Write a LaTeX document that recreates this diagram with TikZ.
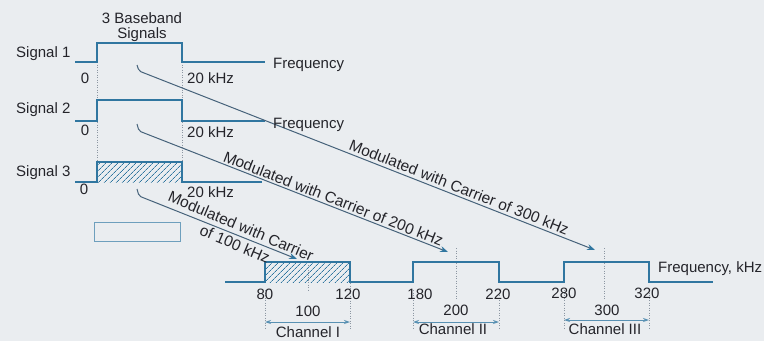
\documentclass[tikz,border=0pt]{standalone}
\usepackage{fontspec}
\setmainfont{Liberation Sans}
\usetikzlibrary{arrows.meta,patterns.meta}
\definecolor{bg}{RGB}{234,237,240}
\definecolor{wave}{RGB}{48,118,160}
\definecolor{conn}{RGB}{70,98,122}
\definecolor{txt}{RGB}{36,36,42}
\definecolor{dots}{RGB}{140,150,162}
\begin{document}
\begin{tikzpicture}[x=1pt,y=-1pt,
  wavestyle/.style={draw=wave,line width=2.4pt,line join=miter},
  lbl/.style={text=txt,font=\fontsize{15}{17}\selectfont,inner sep=0pt},
  dlbl/.style={text=txt,font=\fontsize{15.5}{18}\selectfont,inner sep=0pt},
  connline/.style={draw=conn,line width=1pt,rounded corners=2pt,-{Stealth[length=8pt,width=6pt,color=wave]}},
  dotline/.style={draw=dots,line width=0.9pt,dash pattern=on 1pt off 1.5pt},
  dimline/.style={draw=wave!80,line width=0.9pt,{Stealth[length=6pt,width=4pt]}-{Stealth[length=6pt,width=4pt]}},
  hatch/.style={pattern={Lines[angle=45,distance=4pt,line width=0.7pt]},pattern color=wave}
]
\fill[bg] (0,0) rectangle (764,341);
\useasboundingbox (0,0) rectangle (764,341);

% baseband dotted guides
\draw[dotline] (97,62) -- (97,182);
\draw[dotline] (182,62) -- (182,162);

% baseband signals
\fill[hatch] (97,162) rectangle (182,182);
\draw[wavestyle] (75,62) -- (97,62) -- (97,43) -- (182,43) -- (182,62) -- (265,62);
\draw[wavestyle] (75,121) -- (97,121) -- (97,100) -- (182,100) -- (182,121) -- (265,121);
\draw[wavestyle] (75,182) -- (97,182) -- (97,162) -- (182,162) -- (182,182) -- (262,182);

% empty box
\draw[draw=wave!70,line width=0.9pt] (94,222) rectangle (180,241);

% output spectrum dotted guides
\draw[dotline] (265,290) -- (265,330);
\draw[dotline] (350,283) -- (350,330);
\draw[dotline] (413,290) -- (413,330);
\draw[dotline] (499,290) -- (499,330);
\draw[dotline] (564,290) -- (564,328);
\draw[dotline] (649,290) -- (649,328);
\draw[dotline] (308,262) -- (308,292);
\draw[dotline] (456,248) -- (456,300);
\draw[dotline] (604,248) -- (604,300);

% output spectrum
\fill[hatch] (265,262) rectangle (350,282);
\draw[wavestyle] (225,282) -- (265,282) -- (265,262) -- (350,262) -- (350,282) -- (413,282) -- (413,262) -- (499,262) -- (499,282) -- (564,282) -- (564,262) -- (649,262) -- (649,282) -- (713,282);

% connectors
\coordinate (s1a) at (137,65);
\coordinate (s1b) at (139,71);
\coordinate (c3) at (595,250);
\coordinate (s2a) at (137,124);
\coordinate (s2b) at (139,131);
\coordinate (c2) at (448,252);
\coordinate (s3a) at (137,189);
\coordinate (s3b) at (139,196);
\coordinate (c1) at (297,259);
\draw[connline] (s1a) -- (s1b) -- (c3);
\draw[connline] (s2a) -- (s2b) -- (c2);
\draw[connline] (s3a) -- (s3b) -- (c1);
\path (s1b) -- (c3) node[dlbl,pos=0.695,sloped,above=3pt] (t300) {Modulated with Carrier of 300 kHz};
\path (s2b) -- (c2) node[dlbl,pos=0.62,sloped,above=2pt] (t200) {Modulated with Carrier of 200 kHz};
\node[dlbl,rotate=-23] (t100a) at (241,226) {Modulated with Carrier};
\node[dlbl,rotate=-23] (t100b) at (235,244) {of 100 kHz};

% dimension arrows
\draw[dimline] (265,322) -- (350,322);
\draw[dimline] (413,322) -- (499,322);
\draw[dimline] (564,320) -- (649,320);

% labels
\node[lbl,anchor=base] (bb1) at (142,23) {3 Baseband};
\node[lbl,anchor=base] (bb2) at (142,38) {Signals};
\node[lbl,anchor=base west] (sig1) at (16,57) {Signal 1};
\node[lbl,anchor=base west] (sig2) at (16,113) {Signal 2};
\node[lbl,anchor=base west] (sig3) at (16,176) {Signal 3};
\node[lbl,anchor=base] (z1) at (85,83) {0};
\node[lbl,anchor=base] (z2) at (85,135) {0};
\node[lbl,anchor=base] (z3) at (84,194) {0};
\node[lbl,anchor=base west] (k1) at (187,83) {20 kHz};
\node[lbl,anchor=base west] (k2) at (187,137) {20 kHz};
\node[lbl,anchor=base west] (k3) at (187,197) {20 kHz};
\node[lbl,anchor=base west] (f1) at (273,68) {Frequency};
\node[lbl,anchor=base west] (f2) at (273,128) {Frequency};
\node[lbl,anchor=base west] (fk) at (658,272) {Frequency, kHz};

\node[lbl,anchor=base] (n80) at (265,299) {80};
\node[lbl,anchor=base] (n120) at (348,299) {120};
\node[lbl,anchor=base] (n180) at (420,299) {180};
\node[lbl,anchor=base] (n220) at (498,299) {220};
\node[lbl,anchor=base] (n280) at (564,298) {280};
\node[lbl,anchor=base] (n320) at (647,298) {320};
\node[lbl,anchor=base] (m100) at (308,316) {100};
\node[lbl,anchor=base] (m200) at (456,315) {200};
\node[lbl,anchor=base] (m300) at (607,315) {300};
\node[lbl,anchor=base] (ch1) at (308,337) {Channel I};
\node[lbl,anchor=base] (ch2) at (453,334) {Channel II};
\node[lbl,anchor=base] (ch3) at (605,334) {Channel III};
\end{tikzpicture}
\end{document}
